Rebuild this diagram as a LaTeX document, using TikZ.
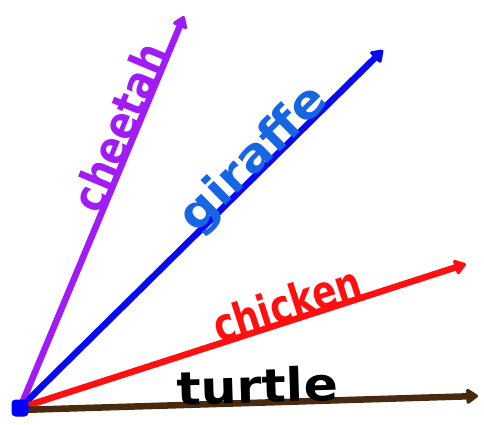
\documentclass[tikz,border=0pt]{standalone}
\usepackage{graphicx}
\usepackage{fontspec}
\usepackage{tikz}
\usetikzlibrary{arrows.meta,calc}
\newfontfamily\handfont{DejaVu Sans}
\definecolor{cheetahc}{HTML}{A11BF5}
\definecolor{giraffec}{HTML}{0A0AF0}
\definecolor{giraffet}{HTML}{1665E3}
\definecolor{chickenc}{HTML}{FF0F0F}
\definecolor{turtlec}{HTML}{4A2A0E}

\begin{document}
\begin{tikzpicture}[x=1pt,y=-1pt,
 vec/.style={-{Triangle[length=13pt,width=17pt,round]},line width=6.5pt,line cap=round},
 lbl/.style={font=\fontsize{46}{46}\handfont\bfseries,anchor=base,inner sep=0pt,sloped},
 dot/.style={fill=blue,rounded corners=4pt,minimum size=17pt,inner sep=0pt}]
\useasboundingbox (0,0) rectangle (484,425);
\coordinate (o) at (20,408);
\coordinate (cheetah) at (184,16);
\coordinate (giraffe) at (383,50);
\coordinate (chicken) at (466,264);
\coordinate (turtle) at (478,396);
\draw[vec,cheetahc] (o) -- node[lbl,text=cheetahc,pos=0.7] (cheetahlbl) {\scalebox{0.85}[1]{cheetah}} (cheetah);
\draw[vec,giraffec] (o) -- node[lbl,text=giraffet,pos=0.67] (giraffelbl) {\scalebox{1.1}[1]{giraffe}} (giraffe);
\draw[vec,chickenc] (o) -- node[lbl,text=chickenc,pos=0.61] (chickenlbl) {\scalebox{0.78}[1]{chicken}} (chicken);
\draw[vec,turtlec] ($(o)+(0,2)$) -- node[lbl,text=black,pos=0.52] (turtlelbl) {\scalebox{1.1}[1]{turtle}} (turtle);
\node[dot] (odot) at (o) {};
\end{tikzpicture}
\end{document}
